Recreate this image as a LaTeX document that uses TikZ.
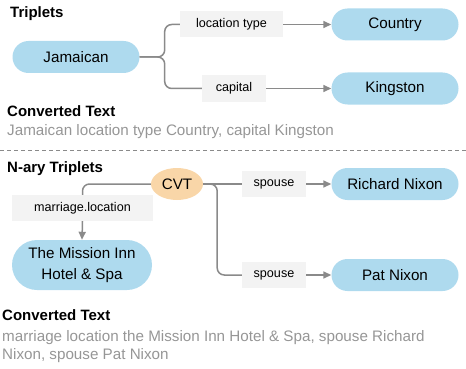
\documentclass[tikz,border=0pt]{standalone}
\usepackage{fontspec}
\setmainfont{Liberation Sans}
\usetikzlibrary{shapes.geometric,shapes.misc,arrows.meta}
\definecolor{entblue}{RGB}{174,218,238}
\definecolor{cvtorange}{RGB}{249,214,168}
\definecolor{relfill}{RGB}{243,243,243}
\definecolor{linegray}{RGB}{138,138,138}
\definecolor{textgray}{RGB}{150,150,150}
\tikzset{>={Triangle[length=8pt,width=7pt]},
  entity/.style={rounded rectangle, fill=entblue, inner sep=0pt, minimum width=127pt, minimum height=32pt, font=\fontsize{15.2}{20.5}\selectfont, align=center},
  cvt/.style={ellipse, fill=cvtorange, inner sep=0pt, minimum width=52pt, minimum height=32pt, font=\fontsize{15.2}{17}\selectfont},
  rel/.style={fill=relfill, inner sep=0pt, minimum height=26pt, font=\fontsize{12.6}{14}\selectfont},
  edge/.style={draw=linegray, line width=1.5pt, rounded corners=7pt},
  heading/.style={anchor=base west, inner sep=0pt, font=\bfseries\fontsize{15}{17}\selectfont},
  converted/.style={anchor=base west, inner sep=0pt, text=textgray, font=\fontsize{15.2}{17}\selectfont}}

\begin{document}
\begin{tikzpicture}[x=1pt,y=-1pt]
\useasboundingbox (0,0) rectangle (466,369);
% triplets
\node[heading] (h1) at (10,17.7) {Triplets};
\node[entity] (jam) at (76,57) {Jamaican};
\node[entity] (country) at (395,24.5) {Country};
\node[entity] (kingston) at (395,88.5) {Kingston};
\node[rel, minimum width=103pt] (loctype) at (231.5,24.5) {location type};
\node[rel, minimum width=64pt] (capital) at (234,88.5) {capital};
\draw[edge] (jam.east) -- ++(25,0) |- (loctype.west);
\draw[edge] (jam.east) -- ++(25,0) |- (capital.west);
\draw[edge,->] (loctype.east) -- (country.west);
\draw[edge,->] (capital.east) -- (kingston.west);
\node[heading] (h2) at (7,116.5) {Converted Text};
\node[converted] (t1) at (7,135.7) {Jamaican location type Country, capital Kingston};
% separator
\draw[linegray, line width=0.8pt, dash pattern=on 4pt off 3pt] (0,150) -- (466,150);
% n-ary triplets
\node[heading] (h3) at (7,172.4) {N-ary Triplets};
\node[cvt] (cvtnode) at (177,184) {CVT};
\node[entity] (richard) at (395,184) {Richard Nixon};
\node[entity] (pat) at (395,275) {Pat Nixon};
\node[entity, minimum width=140pt, minimum height=50pt] (mission) at (82,265) {The Mission Inn\\Hotel \& Spa};
\node[rel, minimum width=64pt] (spouse1) at (274,184) {spouse};
\node[rel, minimum width=64pt] (spouse2) at (274,275) {spouse};
\node[rel, minimum width=141pt] (marloc) at (82.5,208) {marriage.location};
\draw[edge] (cvtnode.west) -| (marloc.north);
\draw[edge,->] (marloc.south) -- (mission.north);
\draw[edge] (cvtnode.east) -- (spouse1.west);
\draw[edge] (cvtnode.east) -- ++(14,0) |- (spouse2.west);
\draw[edge,->] (spouse1.east) -- (richard.west);
\draw[edge,->] (spouse2.east) -- (pat.west);
\node[heading] (h4) at (2,320.8) {Converted Text};
\node[converted] (t2a) at (2,341) {marriage location the Mission Inn Hotel \& Spa, spouse Richard};
\node[converted] (t2b) at (2,359) {Nixon, spouse Pat Nixon};
\end{tikzpicture}
\end{document}
